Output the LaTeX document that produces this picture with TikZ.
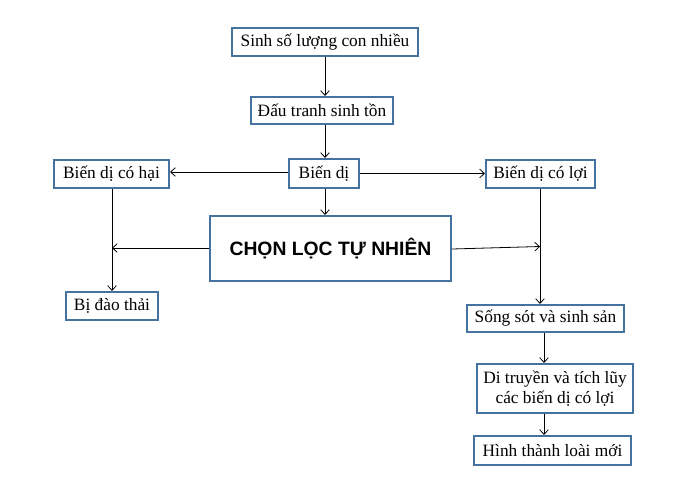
\documentclass[tikz,border=0pt]{standalone}
\usepackage{fontspec}
\setmainfont{Liberation Serif}
\newfontfamily\arialfont{Liberation Sans}
\usetikzlibrary{arrows.meta}
\definecolor{boxblue}{RGB}{70,114,160}
\tikzset{
  box/.style={draw=boxblue, line width=1.6pt, fill=white, inner sep=0pt, align=center,
    font=\fontsize{13}{15.5}\selectfont},
  bigbox/.style={box, font=\arialfont\bfseries\fontsize{14.5}{18}\selectfont},
  arr/.style={draw=black, line width=0.6pt, -{Straight Barb[length=3.5pt,width=6.5pt]}},
}
\begin{document}
\begin{tikzpicture}[x=0.75pt,y=-0.75pt]
\useasboundingbox (0,0) rectangle (684,496);
% nodes
\node[box, minimum width=186*0.75pt, minimum height=28*0.75pt] (b1) at (325,42) {Sinh số lượng con nhiều};
\node[box, minimum width=142*0.75pt, minimum height=27*0.75pt] (b2) at (322,110.5) {Đấu tranh sinh tồn};
\node[box, minimum width=70*0.75pt, minimum height=29*0.75pt] (bd) at (324,173.5) {Biến dị};
\node[box, minimum width=115*0.75pt, minimum height=28*0.75pt] (hai) at (111.5,174) {Biến dị có hại};
\node[box, minimum width=109*0.75pt, minimum height=28*0.75pt] (loi) at (540.5,174) {Biến dị có lợi};
\node[bigbox, minimum width=241*0.75pt, minimum height=65*0.75pt] (cl) at (330.5,248.5) {CHỌN LỌC TỰ NHIÊN};
\node[box, minimum width=92*0.75pt, minimum height=28*0.75pt] (dt) at (112,306) {Bị đào thải};
\node[box, minimum width=157*0.75pt, minimum height=27*0.75pt] (ss) at (545.5,318.5) {Sống sót và sinh sản};
\node[box, minimum width=156*0.75pt, minimum height=49*0.75pt] (di) at (555,388.5) {Di truyền và tích lũy\\các biến dị có lợi};
\node[box, minimum width=157*0.75pt, minimum height=29*0.75pt] (ht) at (552.5,450.5) {Hình thành loài mới};
% helper coordinates for arrow lines
\coordinate (xc) at (325,0);
\coordinate (xl) at (112,0);
\coordinate (xr) at (540,0);
\coordinate (xs) at (544,0);
\coordinate (yl) at (0,172);
\coordinate (yr) at (0,173.5);
\coordinate (jl) at (112,248);
\coordinate (jr) at (540,246.5);
% connectors
\draw[arr] (b1.south -| xc) -- (b2.north -| xc);
\draw[arr] (b2.south -| xc) -- (bd.north -| xc);
\draw[arr] (bd.west |- yl) -- (hai.east |- yl);
\draw[arr] (bd.east |- yr) -- (loi.west |- yr);
\draw[arr] (bd.south -| xc) -- (cl.north -| xc);
\draw[arr] (hai.south -| xl) -- (dt.north -| xl);
\draw[arr] (cl.west |- jl) -- (jl);
\draw[arr] (loi.south -| xr) -- (ss.north -| xr);
\draw[arr] ([yshift=-0.5*0.75pt]cl.east) -- (jr);
\draw[arr] (ss.south -| xs) -- (di.north -| xs);
\draw[arr] (di.south -| xs) -- (ht.north -| xs);
\end{tikzpicture}
\end{document}
